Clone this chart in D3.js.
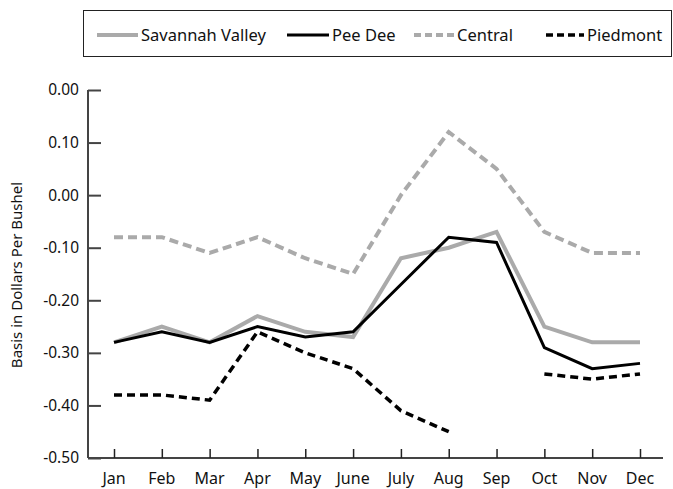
<!DOCTYPE html>
<html>
<head>
<meta charset="utf-8">
<script src="https://cdn.jsdelivr.net/npm/d3@7"></script>
<style>
  body { margin: 0; background: #fff; }
  svg { font-family: "Noto Sans", sans-serif; fill: #111; }
</style>
</head>
<body>
<svg id="chart" width="673" height="489"></svg>
<script>
const months = ['Jan', 'Feb', 'Mar', 'Apr', 'May', 'June', 'July', 'Aug', 'Sep', 'Oct', 'Nov', 'Dec']
const savannahValley = [-0.28, -0.25, -0.28, -0.23, -0.26, -0.27, -0.12, -0.10, -0.07, -0.25, -0.28, -0.28]
const peeDee = [-0.28, -0.26, -0.28, -0.25, -0.27, -0.26, -0.17, -0.08, -0.09, -0.29, -0.33, -0.32]
const central = [-0.08, -0.08, -0.11, -0.08, -0.12, -0.15, 0.00, 0.12, 0.05, -0.07, -0.11, -0.11]
const piedmont = [-0.38, -0.38, -0.39, -0.26, -0.30, -0.33, -0.41, -0.45, null, -0.34, -0.35, -0.34]
const yTickValues = [0.2, 0.1, 0, -0.1, -0.2, -0.3, -0.4, -0.5]
const yTickLabels = ['0.00', '0.10', '0.00', '-0.10', '-0.20', '-0.30', '-0.40', '-0.50']

const series = [
  { name: 'Savannah Valley', values: savannahValley, color: '#aaaaaa', width: 4, dash: null },
  { name: 'Pee Dee', values: peeDee, color: '#000', width: 3, dash: null },
  { name: 'Central', values: central, color: '#aaaaaa', width: 4, dash: '9,5' },
  { name: 'Piedmont', values: piedmont, color: '#000', width: 3.5, dash: '8,5' }
]

const svg = d3.select('#chart')

const x = d3.scalePoint()
  .domain(months)
  .range([114, 640])

const y = d3.scaleLinear()
  .domain([-0.5, 0.2])
  .range([458, 90])

// axes
const yAxis = d3.axisRight(y)
  .tickValues(yTickValues)
  .tickSize(13)
  .tickFormat('')

svg.append('g')
  .attr('transform', 'translate(88,0)')
  .call(yAxis)
  .call(g => g.select('.domain').attr('d', `M0,${y(0.2)}V${y(-0.5)}`))
  .call(g => g.selectAll('line, path').attr('stroke', '#444').attr('stroke-width', 2))

svg.append('g')
  .selectAll('text')
  .data(yTickValues)
  .enter()
  .append('text')
  .attr('x', 79)
  .attr('y', d => y(d))
  .attr('dy', '0.35em')
  .attr('text-anchor', 'end')
  .attr('font-size', 15.5)
  .text((d, i) => yTickLabels[i])

const xAxis = d3.axisTop(x)
  .tickSize(9)
  .tickFormat('')

svg.append('g')
  .attr('transform', `translate(0,${y(-0.5)})`)
  .call(xAxis)
  .call(g => g.select('.domain').attr('d', 'M88,0H663'))
  .call(g => g.selectAll('line').attr('stroke', '#222').attr('stroke-width', 1.5))
  .call(g => g.select('.domain').attr('stroke', '#444').attr('stroke-width', 2))

svg.append('g')
  .selectAll('text')
  .data(months)
  .enter()
  .append('text')
  .attr('x', d => x(d))
  .attr('y', 484)
  .attr('text-anchor', 'middle')
  .attr('font-size', 16)
  .text(d => d)

svg.append('text')
  .attr('transform', 'translate(22,275) rotate(-90)')
  .attr('text-anchor', 'middle')
  .attr('font-size', 15)
  .text('Basis in Dollars Per Bushel')

// lines
const line = d3.line()
  .defined(d => d.v !== null)
  .x(d => x(d.m))
  .y(d => y(d.v))

svg.append('g')
  .selectAll('path')
  .data(series)
  .enter()
  .append('path')
  .attr('fill', 'none')
  .attr('stroke', d => d.color)
  .attr('stroke-width', d => d.width)
  .attr('stroke-dasharray', d => d.dash)
  .attr('d', d => line(d.values.map((v, i) => ({ m: months[i], v: v }))))

//LEGEND
const legend = svg.append('g')

legend.append('rect')
  .attr('x', 83.5)
  .attr('y', 10.5)
  .attr('width', 588)
  .attr('height', 46)
  .attr('fill', '#fff')
  .attr('stroke', '#222')
  .attr('stroke-width', 1)

const legendX = [97, 287, 414, 546]
const legendLen = [41, 42, 40, 38]

const item = legend.selectAll('g.item')
  .data(series)
  .enter()
  .append('g')
  .attr('class', 'item')
  .attr('transform', (d, i) => `translate(${legendX[i]},35)`)

item.append('line')
  .attr('x1', 0)
  .attr('x2', (d, i) => legendLen[i])
  .attr('stroke', d => d.color)
  .attr('stroke-width', d => d.width)
  .attr('stroke-dasharray', d => d.dash ? '7,4' : null)

item.append('text')
  .attr('x', (d, i) => legendLen[i] + 3)
  .attr('dy', '0.35em')
  .attr('font-size', 16.5)
  .text(d => d.name)
</script>
</body>
</html>
